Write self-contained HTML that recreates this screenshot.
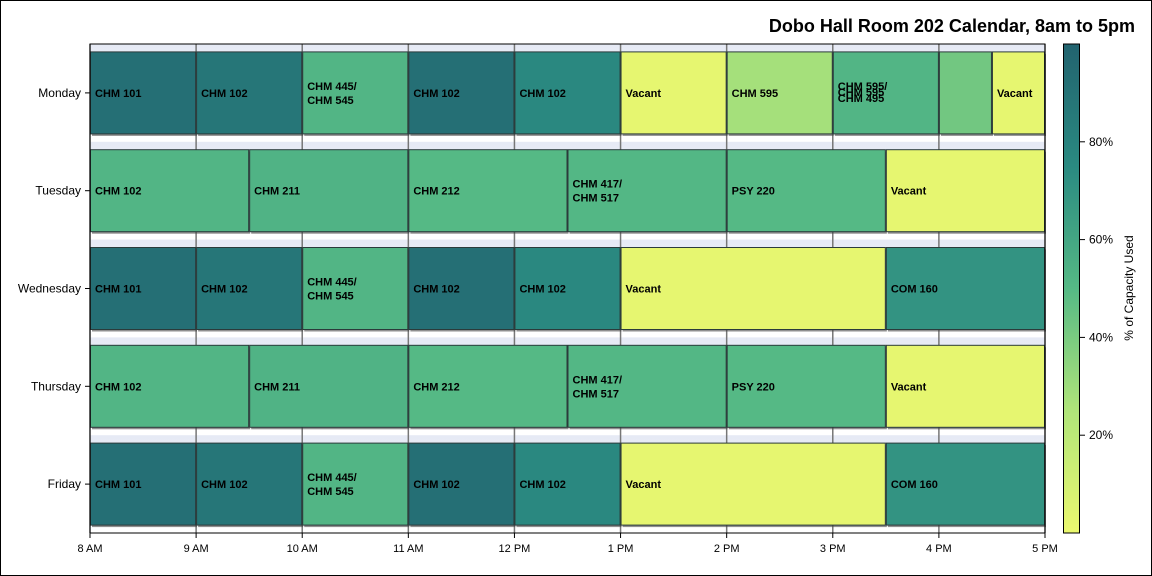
<!DOCTYPE html>
<html><head><meta charset="utf-8"><style>
body{margin:0;background:#fff}
svg{display:block;font-family:"Liberation Sans",Arial,sans-serif}
</style></head><body>
<svg id="chart" width="1152" height="576" viewBox="0 0 1152 576">
<defs>
<linearGradient id="cb" x1="0" y1="1" x2="0" y2="0">
<stop offset="0" stop-color="#ebf86f"/><stop offset="0.25" stop-color="#b0e57a"/><stop offset="0.5" stop-color="#55b985"/><stop offset="0.75" stop-color="#2a8a81"/><stop offset="1" stop-color="#22636f"/>
</linearGradient>
<linearGradient id="band" x1="0" y1="0" x2="0" y2="1">
<stop offset="0" stop-color="#e6eaf5"/><stop offset="0.5" stop-color="#eef0f8"/><stop offset="0.55" stop-color="#fff"/><stop offset="1" stop-color="#fff"/>
</linearGradient>
</defs>
<rect x="0.5" y="0.5" width="1151" height="575" fill="#fff" stroke="#000"/>
<text x="1135" y="32" text-anchor="end" font-size="18" font-weight="bold">Dobo Hall Room 202 Calendar, 8am to 5pm</text>
<g id="plot"></g>
<g id="cbar"></g>
</svg>
<script>
const days=["Monday","Tuesday","Wednesday","Thursday","Friday"];
const xTicks=["8 AM","9 AM","10 AM","11 AM","12 PM","1 PM","2 PM","3 PM","4 PM","5 PM"];
const evDay=[0,0,0,0,0,0,0,0,0,0, 1,1,1,1,1,1, 2,2,2,2,2,2,2, 3,3,3,3,3,3, 4,4,4,4,4,4,4];
const evStart=[8,9,10,11,12,13,14,15,16,16.5, 8,9.5,11,12.5,14,15.5, 8,9,10,11,12,13,15.5, 8,9.5,11,12.5,14,15.5, 8,9,10,11,12,13,15.5];
const evEnd=[9,10,11,12,13,14,15,16,16.5,17, 9.5,11,12.5,14,15.5,17, 9,10,11,12,13,15.5,17, 9.5,11,12.5,14,15.5,17, 9,10,11,12,13,15.5,17];
const evCap=[0.92,0.88,0.52,0.92,0.76,0.02,0.28,0.52,0.42,0.02, 0.52,0.53,0.5,0.51,0.5,0.02, 0.92,0.88,0.52,0.92,0.76,0.02,0.7, 0.52,0.53,0.5,0.51,0.5,0.02, 0.92,0.88,0.52,0.92,0.76,0.02,0.7];
const evLabel=["CHM 101","CHM 102","CHM 445/|CHM 545","CHM 102","CHM 102","Vacant","CHM 595","OVL","","Vacant",
"CHM 102","CHM 211","CHM 212","CHM 417/|CHM 517","PSY 220","Vacant",
"CHM 101","CHM 102","CHM 445/|CHM 545","CHM 102","CHM 102","Vacant","COM 160",
"CHM 102","CHM 211","CHM 212","CHM 417/|CHM 517","PSY 220","Vacant",
"CHM 101","CHM 102","CHM 445/|CHM 545","CHM 102","CHM 102","Vacant","COM 160"];
const cbTicks=[0.2,0.4,0.6,0.8];
const NS="http://www.w3.org/2000/svg";
const X0=90,X1=1045,T=44,B=533;
const xs=h=>X0+(h-8)/9*(X1-X0);
const rowH=(B-T)/5;
const yc=i=>T+rowH*(i+0.5);
const cy=v=>B-v*(B-T);
const stops=[[0,[235,248,111]],[0.25,[176,229,122]],[0.5,[85,185,133]],[0.75,[42,138,129]],[1,[34,99,111]]];
function col(v){for(let i=1;i<stops.length;i++){if(v<=stops[i][0]){const a=stops[i-1],b=stops[i],t=(v-a[0])/(b[0]-a[0]);return "rgb("+a[1].map((c,k)=>Math.round(c+(b[1][k]-c)*t)).join(",")+")";}}return "rgb(34,99,111)";}
function mk(p,tag,at,txt){const e=document.createElementNS(NS,tag);for(const k in at)e.setAttribute(k,at[k]);if(txt!==undefined)e.textContent=txt;p.appendChild(e);return e;}
const P=document.getElementById("plot");
// bands
days.forEach((d,i)=>{
 const bg=mk(P,"rect",{x:X0,y:T+rowH*i,width:X1-X0,height:rowH,fill:"url(#band)"});
 
 
});
// gridlines
xTicks.forEach((t,i)=>{const x=xs(8+i);
 const g=mk(P,"line",{x1:x,x2:x,y1:T,y2:B,stroke:"#777","stroke-width":1.5});
 
 
});
// bars
const hb=41;
for(let i=0;i<evDay.length;i++){
 const x=xs(evStart[i]),w=xs(evEnd[i])-x,y=yc(evDay[i]);
 const g=mk(P,"g",{});
 
 
 mk(g,"rect",{x:x+2,y:y-hb+2,width:w-1,height:2*hb,fill:"#444",opacity:0.6});
 mk(g,"rect",{x:x+0.5,y:y-hb,width:w-1,height:2*hb,fill:col(evCap[i]),stroke:"#2b3b3b","stroke-width":1});
 const lab=evLabel[i];
 if(lab==="OVL"){
  [["CHM 595/",-6],["CHM 595",0],["CHM 495",6]].forEach(([s,o])=>{const t=mk(g,"text",{x:x+5,y:y+o+3,"font-size":11,"font-weight":"bold"},s);});
 }else if(lab){
  const parts=lab.split("|");
  parts.forEach((s,k)=>{const off=parts.length>1?(k===0?-7:7):0;
   const t=mk(g,"text",{x:x+5,y:y+off+4,"font-size":11,"font-weight":"bold"},s);
   
   });
 }
}
// frame
const fr=mk(P,"rect",{x:X0,y:T,width:X1-X0,height:B-T,fill:"none",stroke:"#000"});


// y axis
days.forEach((d,i)=>{
 mk(P,"line",{x1:X0-5,x2:X0,y1:yc(i),y2:yc(i),stroke:"#000"});
 const t=mk(P,"text",{x:X0-9,y:yc(i)+4,"font-size":12,"text-anchor":"end"},d);
 
 
});
// x axis
xTicks.forEach((s,i)=>{const x=xs(8+i);
 mk(P,"line",{x1:x,x2:x,y1:B,y2:B+5,stroke:"#000"});
 const t=mk(P,"text",{x:x,y:B+19,"font-size":11,"text-anchor":"middle"},s);
 
 
});
// colorbar
const C=document.getElementById("cbar");
const cr=mk(C,"rect",{x:1063.5,y:T,width:16,height:B-T,fill:"url(#cb)",stroke:"#000"});


cbTicks.forEach(v=>{const y=cy(v);
 mk(C,"line",{x1:1080,x2:1085,y1:y,y2:y,stroke:"#000"});
 const t=mk(C,"text",{x:1089,y:y+4,"font-size":12},Math.round(v*100)+"%");
 
 
});
const ct=mk(C,"text",{x:0,y:0,"font-size":12,"text-anchor":"middle",transform:"translate(1133,288) rotate(-90)"},"% of Capacity Used");


</script>
</body></html>
